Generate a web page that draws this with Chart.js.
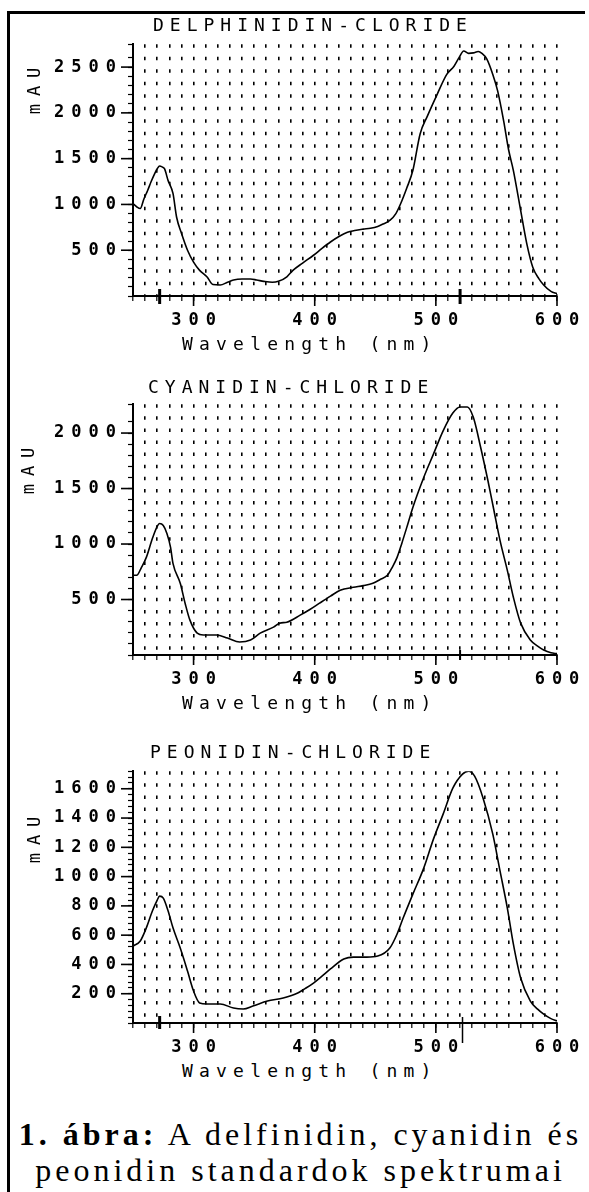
<!DOCTYPE html>
<html><head><meta charset="utf-8">
<script src="https://cdn.jsdelivr.net/npm/chart.js@4.4.1/dist/chart.umd.min.js"></script>
<style>
html,body{margin:0;padding:0;background:#fff;}
#page{position:relative;width:589px;height:1192px;overflow:hidden;background:#fff;}
.frameTop{position:absolute;left:7px;top:11px;width:578px;height:3px;background:#000;}
.frameLeft{position:absolute;left:7px;top:11px;width:3px;height:1181px;background:#000;}
canvas{position:absolute;left:0;}
.t{position:absolute;font-family:"DejaVu Sans Mono",monospace;color:#000;white-space:nowrap;line-height:1;}
.title{font-size:18px;letter-spacing:6px;}
.xl{font-size:18px;letter-spacing:6.2px;left:182px;}
.yl{font-size:17px;letter-spacing:8px;padding-left:8px;transform:translate(-50%,-50%) rotate(-90deg);}
.cap{position:absolute;left:8px;width:581px;text-align:center;font-family:"Liberation Serif","Times New Roman",serif;font-size:32px;letter-spacing:4px;padding-left:4px;box-sizing:border-box;line-height:36px;color:#000;white-space:nowrap;}
</style></head>
<body>
<div id="page">
  <div class="frameTop"></div>
  <div class="frameLeft"></div>
  <canvas id="c1" width="589" height="301" style="top:29px;width:589px;height:301px"></canvas>
  <canvas id="c2" width="589" height="300" style="top:389px;width:589px;height:300px"></canvas>
  <canvas id="c3" width="589" height="301" style="top:756px;width:589px;height:301px"></canvas>

  <div class="t title" style="left:153px;top:16px">DELPHINIDIN-CLORIDE</div>
  <div class="t title" style="left:148px;top:378px">CYANIDIN-CHLORIDE</div>
  <div class="t title" style="left:150px;top:743px">PEONIDIN-CHLORIDE</div>

  <div class="t yl" style="left:34px;top:91px">mAU</div>
  <div class="t yl" style="left:28px;top:471px">mAU</div>
  <div class="t yl" style="left:34px;top:840px">mAU</div>

  <div class="t xl" style="top:335px">Wavelength (nm)</div>
  <div class="t xl" style="top:694px">Wavelength (nm)</div>
  <div class="t xl" style="top:1062px">Wavelength (nm)</div>

  <div class="cap" style="top:1116px"><b>1. ábra:</b> A delfinidin, cyanidin és</div>
  <div class="cap" style="top:1152px">peonidin standardok spektrumai</div>
</div>
<script>
// ---- tick labels ----
const xMajorLabels = [300, 400, 500, 600];
const delphYMajors = [500, 1000, 1500, 2000, 2500];
const cyanYMajors = [500, 1000, 1500, 2000];
const peonYMajors = [200, 400, 600, 800, 1000, 1200, 1400, 1600];

// ---- Delphinidin-cloride spectrum ----
const delphWl  = [250,253,256,259,262,265,268,270,272,274,276,279,283,286,290,295,300,305,311,316,322,328,333,340,347,352,358,365,370,377,382,390,399,406,413,420,427,433,440,446,452,457,462,467,471,476,481,487,493,501,509,515,519,523,527,531,535,538,542,547,551,556,560,564,570,575,580,585,589,595,600];
const delphAbs = [1010,975,955,1060,1150,1250,1340,1390,1420,1410,1390,1260,1120,860,685,500,370,280,210,125,120,150,175,185,185,175,160,150,160,210,280,360,445,520,590,650,695,715,730,740,760,790,825,900,1010,1180,1370,1770,1965,2200,2420,2510,2600,2675,2650,2655,2670,2650,2590,2420,2240,1910,1600,1370,935,575,315,190,120,50,25];
const delphPeaks = [272, 520];

// ---- Cyanidin-chloride spectrum ----
const cyanWl  = [250,253,257,261,266,270,272,275,278,281,283,289,293,297,303,308,319,328,338,347,355,366,371,377,388,396,404,413,421,432,440,448,454,460,464,468,472,476,481,490,498,506,514,520,526,531,537,543,548,553,559,564,570,578,584,589,595,600];
const cyanAbs = [718,718,790,880,1050,1160,1185,1167,1095,970,826,646,467,314,197,180,180,153,117,135,197,251,287,296,359,410,467,530,583,610,625,646,680,718,790,880,1010,1150,1330,1600,1810,2020,2180,2235,2235,2140,1870,1570,1300,1030,763,520,287,135,80,45,20,12];
const cyanPeaks = [520];

// ---- Peonidin-chloride spectrum ----
const peonWl  = [250,256,261,266,270,272,275,279,283,289,295,300,305,311,322,333,341,349,361,374,386,392,399,406,413,424,432,443,452,462,468,473,481,490,498,506,514,522,527,532,539,547,553,559,564,570,578,584,589,595,600];
const peonAbs = [525,560,650,765,840,867,853,765,650,512,355,218,137,130,130,102,96,116,150,171,205,235,273,320,369,437,450,450,457,512,608,717,880,1058,1256,1427,1604,1700,1720,1686,1536,1290,1037,785,539,307,150,95,61,30,14];
const peonPeaks = [272, 522];

const decor = {
  id: 'decor',
  beforeDraw(chart) { chart.ctx.letterSpacing = '7px'; },
  afterDraw(chart, args, o) {
    const ctx = chart.ctx, xs = chart.scales.x, ys = chart.scales.y;
    const ax = ys.right, ay = xs.top;
    ctx.save();
    ctx.strokeStyle = '#000';
    ctx.lineWidth = 1.6;
    o.yMajors.forEach(v => {
      const p = ys.getPixelForValue(v);
      ctx.beginPath(); ctx.moveTo(ax - 12, p); ctx.lineTo(ax, p); ctx.stroke();
    });
    o.xMajors.forEach(v => {
      const p = xs.getPixelForValue(v);
      ctx.beginPath(); ctx.moveTo(p, ay); ctx.lineTo(p, ay + 10); ctx.stroke();
    });
    o.marks.forEach(m => {
      const p = xs.getPixelForValue(m.wl);
      ctx.lineWidth = m.w;
      ctx.beginPath(); ctx.moveTo(p, ay - m.up); ctx.lineTo(p, ay + m.down); ctx.stroke();
    });
    ctx.restore();
  }
};

function makeChart(id, wl, abs, yMax, yStep, yMajors, marks, dash) {
  const data = wl.map((w, i) => ({x: w, y: abs[i]}));
  const font = {family: 'DejaVu Sans Mono', size: 17, weight: 'bold'};
  return new Chart(document.getElementById(id), {
    type: 'line',
    data: {datasets: [{data, borderColor: '#000', borderWidth: 1.6, pointRadius: 0,
      cubicInterpolationMode: 'monotone', fill: false}]},
    plugins: [decor],
    options: {
      responsive: false, animation: false, devicePixelRatio: 1,
      layout: {padding: {top: 14, right: 32, left: 0, bottom: 0}},
      plugins: {legend: {display: false}, tooltip: {enabled: false},
        decor: {yMajors, xMajors: xMajorLabels, marks}},
      scales: {
        x: {type: 'linear', min: 250, max: 600,
          afterFit: s => { s.height = 34; },
          ticks: {stepSize: 10, autoSkip: false, maxRotation: 0, minRotation: 0, color: '#000', font,
            padding: 9, labelOffset: 3.5,
            callback: v => xMajorLabels.includes(v) ? String(v) : ''},
          grid: {drawOnChartArea: true, color: c => (c.tick && c.tick.value === 250) ? 'rgba(0,0,0,0)' : '#000',
            lineWidth: 1.6, drawTicks: true, tickLength: 5, tickColor: '#000', tickWidth: 1.2, tickBorderDash: []},
          border: {display: true, color: '#000', width: 2, dash: dash}
        },
        y: {type: 'linear', min: 0, max: yMax,
          afterFit: s => { s.width = 133; },
          ticks: {stepSize: yStep, autoSkip: false, color: '#000', font, padding: 5,
            callback: v => yMajors.includes(v) ? String(v) : ''},
          grid: {drawOnChartArea: false, drawTicks: true, tickLength: 5, tickColor: '#000', tickWidth: 1.2},
          border: {display: true, color: '#000', width: 2}
        }
      }
    }
  });
}

makeChart('c1', delphWl, delphAbs, 2750, 100, delphYMajors,
  delphPeaks.map(w => ({wl: w, w: 3, up: 7, down: 8})), [3.5, 9]);
makeChart('c2', cyanWl, cyanAbs, 2260, 100, cyanYMajors,
  cyanPeaks.map(w => ({wl: w, w: 2, up: 5, down: 5})), [3.5, 8.6]);
makeChart('c3', peonWl, peonAbs, 1720, 40, peonYMajors,
  peonPeaks.map((w, i) => i === 0 ? {wl: w, w: 3, up: 7, down: 6} : {wl: w, w: 1.5, up: 6, down: 20}), [3.5, 8.6]);
</script>
</body></html>
